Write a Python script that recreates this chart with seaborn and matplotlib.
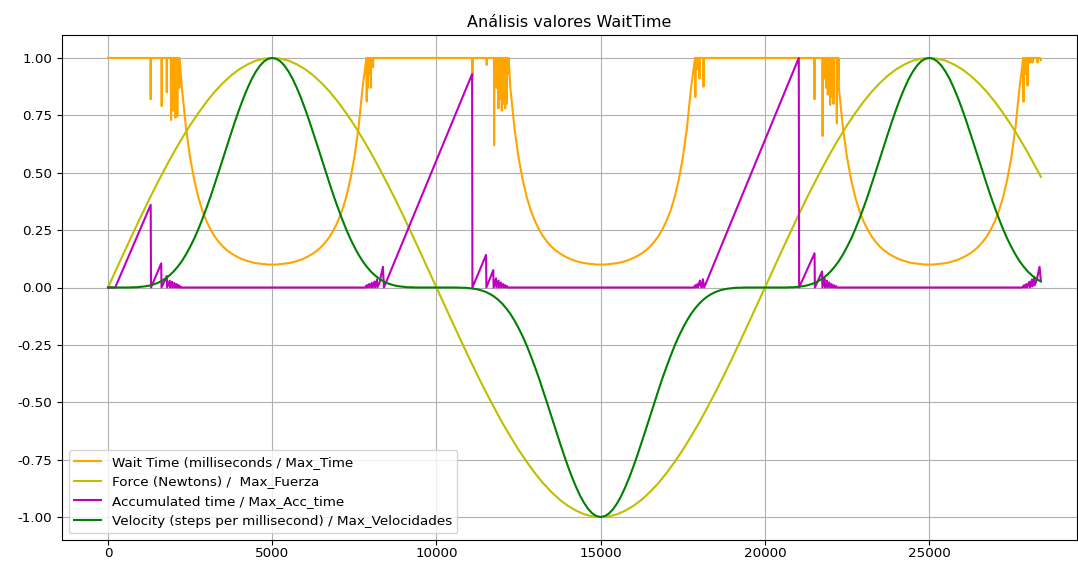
import numpy as np
import pandas as pd
import seaborn as sns
import matplotlib
matplotlib.use("Agg")
import matplotlib.pyplot as plt

# sample times (ms)
t_coarse = list(range(0, 28251, 250)) + [28400]
t_fine = list(range(0, 28376, 125)) + [28400]

# wait time / Max_Time, sampled on t_fine
wait_base = [
    # 0 .. 5000
    1.0, 1.0, 1.0, 1.0, 1.0, 1.0, 1.0, 1.0, 1.0, 1.0,
    1.0, 1.0, 1.0, 1.0, 1.0, 1.0, 1.0, 1.0, 0.870, 0.694,
    0.566, 0.469, 0.393, 0.334, 0.289, 0.252, 0.222, 0.198, 0.178, 0.162,
    0.149, 0.138, 0.129, 0.121, 0.115, 0.110, 0.106, 0.104, 0.102, 0.100,
    0.100,
    # 5125 .. 10000
    0.100, 0.102, 0.104, 0.106, 0.110, 0.115, 0.121, 0.129, 0.138, 0.149,
    0.162, 0.178, 0.198, 0.222, 0.252, 0.289, 0.334, 0.393, 0.469, 0.566,
    0.694, 0.870, 1.0, 1.0, 1.0, 1.0, 1.0, 1.0, 1.0, 1.0,
    1.0, 1.0, 1.0, 1.0, 1.0, 1.0, 1.0, 1.0, 1.0, 1.0,
    # 10125 .. 15000
    1.0, 1.0, 1.0, 1.0, 1.0, 1.0, 1.0, 1.0, 1.0, 1.0,
    1.0, 1.0, 1.0, 1.0, 1.0, 1.0, 1.0, 0.870, 0.694, 0.566,
    0.469, 0.393, 0.334, 0.289, 0.252, 0.222, 0.198, 0.178, 0.162, 0.149,
    0.138, 0.129, 0.121, 0.115, 0.110, 0.106, 0.104, 0.102, 0.100, 0.100,
    # 15125 .. 20000
    0.100, 0.102, 0.104, 0.106, 0.110, 0.115, 0.121, 0.129, 0.138, 0.149,
    0.162, 0.178, 0.198, 0.222, 0.252, 0.289, 0.334, 0.393, 0.469, 0.566,
    0.694, 0.870, 1.0, 1.0, 1.0, 1.0, 1.0, 1.0, 1.0, 1.0,
    1.0, 1.0, 1.0, 1.0, 1.0, 1.0, 1.0, 1.0, 1.0, 1.0,
    # 20125 .. 25000
    1.0, 1.0, 1.0, 1.0, 1.0, 1.0, 1.0, 1.0, 1.0, 1.0,
    1.0, 1.0, 1.0, 1.0, 1.0, 1.0, 1.0, 0.870, 0.694, 0.566,
    0.469, 0.393, 0.334, 0.289, 0.252, 0.222, 0.198, 0.178, 0.162, 0.149,
    0.138, 0.129, 0.121, 0.115, 0.110, 0.106, 0.104, 0.102, 0.100, 0.100,
    # 25125 .. 28400
    0.100, 0.102, 0.104, 0.106, 0.110, 0.115, 0.121, 0.129, 0.138, 0.149,
    0.162, 0.178, 0.198, 0.222, 0.252, 0.289, 0.334, 0.393, 0.469, 0.566,
    0.694, 0.870, 1.0, 1.0, 1.0, 1.0, 1.0, 0.99,
]

# downward glitches of the wait time
wait_spike_t = [1300, 1635, 1790, 1920, 1990, 2050, 2110, 2170,
                7877, 7917, 7960, 8005, 8070,
                11095, 11530, 11755, 11835, 11885, 11935, 11990, 12040, 12090, 12140, 12190,
                17880, 17945, 18005, 18130,
                21510, 21755, 21813, 21864, 21915, 21985, 22036, 22086, 22189, 22230,
                27872, 27945, 27994, 28076, 28147, 28300]
wait_spike_v = [0.82, 0.79, 0.85, 0.73, 0.77, 0.74, 0.745, 0.87,
                0.81, 0.87, 0.93, 0.87, 0.96,
                0.92, 0.97, 0.62, 0.87, 0.78, 0.82, 0.77, 0.80, 0.78, 0.80, 0.93,
                0.83, 0.95, 0.91, 0.875,
                0.82, 0.66, 0.91, 0.87, 0.84, 0.795, 0.83, 0.80, 0.715, 0.91,
                0.81, 0.93, 0.88, 0.98, 0.98, 0.98]

# force / Max_Fuerza, sampled on t_coarse
force = [
    0.000, 0.078, 0.156, 0.233, 0.309, 0.383, 0.454, 0.522, 0.588, 0.649,
    0.707, 0.760, 0.809, 0.853, 0.891, 0.924, 0.951, 0.972, 0.988, 0.997,
    1.000, 0.997, 0.988, 0.972, 0.951, 0.924, 0.891, 0.853, 0.809, 0.760,
    0.707, 0.649, 0.588, 0.522, 0.454, 0.383, 0.309, 0.233, 0.156, 0.078,
    0.000, -0.078, -0.156, -0.233, -0.309, -0.383, -0.454, -0.522, -0.588, -0.649,
    -0.707, -0.760, -0.809, -0.853, -0.891, -0.924, -0.951, -0.972, -0.988, -0.997,
    -1.000, -0.997, -0.988, -0.972, -0.951, -0.924, -0.891, -0.853, -0.809, -0.760,
    -0.707, -0.649, -0.588, -0.522, -0.454, -0.383, -0.309, -0.233, -0.156, -0.078,
    0.000, 0.078, 0.156, 0.233, 0.309, 0.383, 0.454, 0.522, 0.588, 0.649,
    0.707, 0.760, 0.809, 0.853, 0.891, 0.924, 0.951, 0.972, 0.988, 0.997,
    1.000, 0.997, 0.988, 0.972, 0.951, 0.924, 0.891, 0.853, 0.809, 0.760,
    0.707, 0.649, 0.588, 0.522, 0.482,
]

# velocity / Max_Velocidades, sampled on t_fine
velocity = [
    0.000, 0.000, 0.000, 0.000, 0.000, 0.000, 0.001, 0.001, 0.003, 0.005,
    0.008, 0.013, 0.019, 0.028, 0.039, 0.053, 0.070, 0.091, 0.115, 0.144,
    0.177, 0.213, 0.254, 0.299, 0.347, 0.397, 0.451, 0.506, 0.562, 0.618,
    0.673, 0.727, 0.778, 0.826, 0.869, 0.908, 0.940, 0.966, 0.985, 0.996,
    1.000,
    0.996, 0.985, 0.966, 0.940, 0.908, 0.869, 0.826, 0.778, 0.727, 0.673,
    0.618, 0.562, 0.506, 0.451, 0.397, 0.347, 0.299, 0.254, 0.213, 0.177,
    0.144, 0.115, 0.091, 0.070, 0.053, 0.039, 0.028, 0.019, 0.013, 0.008,
    0.005, 0.003, 0.001, 0.001, 0.000, 0.000, 0.000, 0.000, 0.000, 0.000,
    0.000, 0.000, 0.000, 0.000, 0.000, -0.001, -0.001, -0.003, -0.005, -0.008,
    -0.013, -0.019, -0.028, -0.039, -0.053, -0.070, -0.091, -0.115, -0.144, -0.177,
    -0.213, -0.254, -0.299, -0.347, -0.397, -0.451, -0.506, -0.562, -0.618, -0.673,
    -0.727, -0.778, -0.826, -0.869, -0.908, -0.940, -0.966, -0.985, -0.996, -1.000,
    -0.996, -0.985, -0.966, -0.940, -0.908, -0.869, -0.826, -0.778, -0.727, -0.673,
    -0.618, -0.562, -0.506, -0.451, -0.397, -0.347, -0.299, -0.254, -0.213, -0.177,
    -0.144, -0.115, -0.091, -0.070, -0.053, -0.039, -0.028, -0.019, -0.013, -0.008,
    -0.005, -0.003, -0.001, -0.001, 0.000, 0.000, 0.000, 0.000, 0.000, 0.000,
    0.000, 0.000, 0.000, 0.000, 0.000, 0.001, 0.001, 0.003, 0.005, 0.008,
    0.013, 0.019, 0.028, 0.039, 0.053, 0.070, 0.091, 0.115, 0.144, 0.177,
    0.213, 0.254, 0.299, 0.347, 0.397, 0.451, 0.506, 0.562, 0.618, 0.673,
    0.727, 0.778, 0.826, 0.869, 0.908, 0.940, 0.966, 0.985, 0.996, 1.000,
    0.996, 0.985, 0.966, 0.940, 0.908, 0.869, 0.826, 0.778, 0.727, 0.673,
    0.618, 0.562, 0.506, 0.451, 0.397, 0.347, 0.299, 0.254, 0.213, 0.177,
    0.144, 0.115, 0.091, 0.070, 0.053, 0.039, 0.028, 0.026,
]

# accumulated time: sawtooth breakpoints
acc_t = [0, 220, 1300, 1310, 1620, 1630, 1790, 1800, 1880, 1890, 1950, 1960,
         2020, 2030, 2085, 2095, 2150, 2160, 2200, 2210,
         7830, 7880, 7890, 7950, 7960, 8030, 8040, 8110, 8120, 8190, 8200,
         8265, 8370, 8400, 11085, 11095,
         11510, 11520, 11730, 11740, 11815, 11825, 11890, 11900, 11960, 11970,
         12030, 12040, 12090, 12100, 12150, 12160,
         17830, 17880, 17890, 17950, 17960, 18020, 18030, 18060, 18070, 18110,
         18150, 21030, 21040,
         21510, 21520, 21740, 21750, 21820, 21830, 21890, 21900, 21960, 21970,
         22030, 22040, 22100, 22110, 22170, 22180,
         27830, 27890, 27900, 27960, 27970, 28050, 28060, 28130, 28140, 28200,
         28210, 28270, 28360, 28400]
acc_v = [0, 0, 0.36, 0, 0.105, 0, 0.05, 0, 0.03, 0, 0.025, 0,
         0.02, 0, 0.015, 0, 0.01, 0, 0.005, 0,
         0, 0.01, 0, 0.015, 0, 0.02, 0, 0.025, 0, 0.035, 0,
         0.02, 0.09, 0, 0.93, 0,
         0.142, 0, 0.076, 0, 0.04, 0, 0.03, 0, 0.022, 0,
         0.015, 0, 0.01, 0, 0.006, 0,
         0, 0.01, 0, 0.015, 0, 0.03, 0.01, 0.02, 0, 0.036,
         0, 1.0, 0,
         0.149, 0, 0.07, 0, 0.04, 0, 0.03, 0, 0.022, 0,
         0.015, 0, 0.01, 0, 0.006, 0,
         0, 0.01, 0, 0.015, 0, 0.025, 0, 0.035, 0.005, 0.045,
         0.01, 0.03, 0.09, 0.03]

labels = ["Wait Time (milliseconds / Max_Time",
          "Force (Newtons) /  Max_Fuerza",
          "Accumulated time / Max_Acc_time",
          "Velocity (steps per millisecond) / Max_Velocidades"]
colors = ["orange", "y", "m", "g"]

# merge glitches into the wait series (narrow drops from 1.0)
w = pd.DataFrame({"t": t_fine, "v": wait_base})
sp = []
for t, d in zip(wait_spike_t, wait_spike_v):
    sp += [(t - 8, 1.0), (t, d), (t + 8, 1.0)]
w = pd.concat([w, pd.DataFrame(sp, columns=["t", "v"])]).sort_values("t", kind="stable")

plt.rcParams["axes.unicode_minus"] = False
fig = plt.figure(figsize=(10.78, 5.61), dpi=100)
ax = fig.add_axes([62 / 1078, 21 / 561, 1015 / 1078, 505 / 561])

series = [(w["t"].values, w["v"].values), (t_coarse, force), (acc_t, acc_v), (t_fine, velocity)]
for (x, y), lab, c in zip(series, labels, colors):
    sns.lineplot(x=x, y=y, color=c, label=lab, estimator=None, sort=False,
                 linewidth=1.5, ax=ax)

ax.set_xlim(-1400, 29500)
ax.set_ylim(-1.1, 1.1)
ax.set_xticks([0, 5000, 10000, 15000, 20000, 25000])
ax.set_yticks([-1.0, -0.75, -0.5, -0.25, 0.0, 0.25, 0.5, 0.75, 1.0])
ax.yaxis.set_major_formatter(matplotlib.ticker.FormatStrFormatter("%.2f"))
ax.grid(True, color="#b0b0b0", linewidth=0.8)
ax.set_xlabel("")
ax.set_ylabel("")
ax.tick_params(labelsize=9.7)
ax.tick_params(axis="x", pad=1.5)
ax.set_title("Análisis valores WaitTime", fontsize=11.5)
ax.legend(loc="lower left", fontsize=9.7)

fig.savefig("out.png", dpi=100)
